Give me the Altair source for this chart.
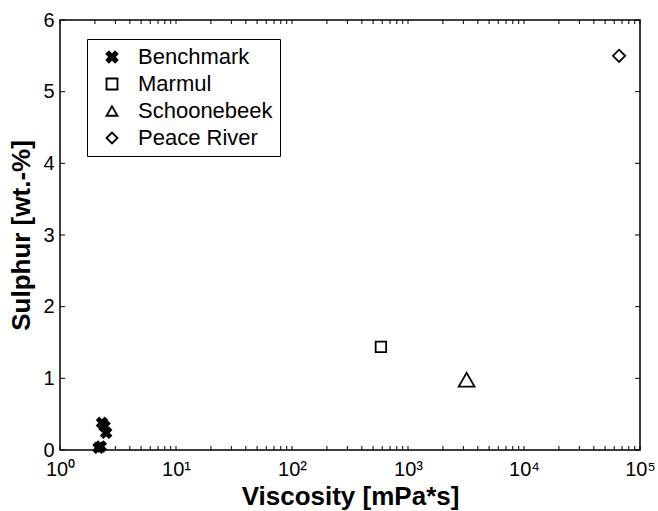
import altair as alt
import pandas as pd

# Data
crude = ["Benchmark", "Benchmark", "Benchmark", "Benchmark", "Benchmark",
         "Marmul", "Schoonebeek", "Peace River"]
viscosity = [2.15, 2.25, 2.3, 2.42, 2.5, 584, 3200, 66000]
sulphur = [0.03, 0.05, 0.38, 0.33, 0.24, 1.44, 0.98, 5.50]

series = ["Benchmark", "Marmul", "Schoonebeek", "Peace River"]
x_major = [1, 10, 100, 1000, 10000, 100000]
y_major = [0, 1, 2, 3, 4, 5, 6]

# marker styling (not data)
marker_size = {"Benchmark": 100, "Marmul": 110, "Schoonebeek": 250, "Peace River": 150}

W, H = 580, 430
FONT = "Liberation Sans"

df = pd.DataFrame({"Crude": crude, "Viscosity": viscosity, "Sulphur": sulphur})
df["msize"] = df["Crude"].map(marker_size)
x_minor = [d * 10 ** k for k in range(5) for d in range(1, 10)] + [100000]
df_xt = pd.DataFrame({"v": x_minor})
df_yt = pd.DataFrame({"v": y_major})

xscale = alt.Scale(type="log", domain=[1, 100000], nice=False)
yscale = alt.Scale(domain=[0, 6], nice=False, zero=False)

xpos = alt.X("Viscosity:Q", scale=xscale,
             axis=alt.Axis(values=x_major, ticks=False, domain=False, grid=False,
                           labelFlush=False, labelOverlap=False,
                           labelExpr="'10' + ['⁰','¹','²','³','⁴','⁵'][round(log(datum.value)/LN10)]",
                           labelFontSize=20, labelPadding=9, labelColor="black",
                           title="Viscosity [mPa*s]", titleFontSize=26,
                           titleFontWeight="bold", titlePadding=4, titleColor="black"))
ypos = alt.Y("Sulphur:Q", scale=yscale,
             axis=alt.Axis(values=y_major, ticks=False, domain=False, grid=False,
                           format="d", labelFlush=False,
                           labelFontSize=20, labelPadding=6, labelColor="black",
                           title="Sulphur [wt.-%]", titleFontSize=26,
                           titleFontWeight="bold", titlePadding=8, titleColor="black"))

bold_x = ("M-1,-0.55 L-0.55,-1 L0,-0.45 L0.55,-1 L1,-0.55 L0.45,0 L1,0.55 "
          "L0.55,1 L0,0.45 L-0.55,1 L-1,0.55 L-0.45,0 Z")

leg = dict(title=None, orient="none", legendX=27, legendY=19)

points = alt.Chart(df).mark_point(strokeWidth=1.8, opacity=1).encode(
    x=xpos,
    y=ypos,
    shape=alt.Shape("Crude:N", scale=alt.Scale(domain=series,
                    range=[bold_x, "square", "triangle-up", "diamond"]),
                    legend=alt.Legend(**leg,
                                      strokeColor="black", fillColor="white",
                                      padding=7, rowPadding=5, labelFontSize=22,
                                      labelFont=FONT, labelColor="black",
                                      symbolOffset=7, labelOffset=15, symbolSize=120,
                                      symbolStrokeWidth=1.8)),
    fill=alt.Fill("Crude:N", scale=alt.Scale(domain=series,
                  range=["black", "transparent", "transparent", "transparent"]),
                  legend=alt.Legend(**leg)),
    stroke=alt.Stroke("Crude:N", scale=alt.Scale(domain=series,
                      range=["black", "black", "black", "black"]),
                      legend=alt.Legend(**leg)),
    size=alt.Size("msize:Q", scale=None, legend=None),
)

tick_len = 4
xt_bottom = alt.Chart(df_xt).mark_rule(color="black", strokeWidth=1).encode(
    x=alt.X("v:Q", scale=xscale), y=alt.value(H), y2=alt.value(H - tick_len))
xt_top = alt.Chart(df_xt).mark_rule(color="black", strokeWidth=1).encode(
    x=alt.X("v:Q", scale=xscale), y=alt.value(0), y2=alt.value(tick_len))
yt_left = alt.Chart(df_yt).mark_rule(color="black", strokeWidth=1).encode(
    y=alt.Y("v:Q", scale=yscale), x=alt.value(0), x2=alt.value(5))
yt_right = alt.Chart(df_yt).mark_rule(color="black", strokeWidth=1).encode(
    y=alt.Y("v:Q", scale=yscale), x=alt.value(W), x2=alt.value(W - 5))

chart = alt.layer(points, xt_bottom, xt_top, yt_left, yt_right).properties(
    width=W, height=H,
    autosize=alt.AutoSizeParams(type="none"),
    padding={"left": 60, "top": 20, "right": 18, "bottom": 61},
    background="white",
).configure_view(stroke="black", strokeWidth=1.5).configure_axis(
    labelFont=FONT, titleFont=FONT
).configure_legend(labelFont=FONT)

chart.save("out.html", embed_options={"renderer": "svg", "actions": False})
